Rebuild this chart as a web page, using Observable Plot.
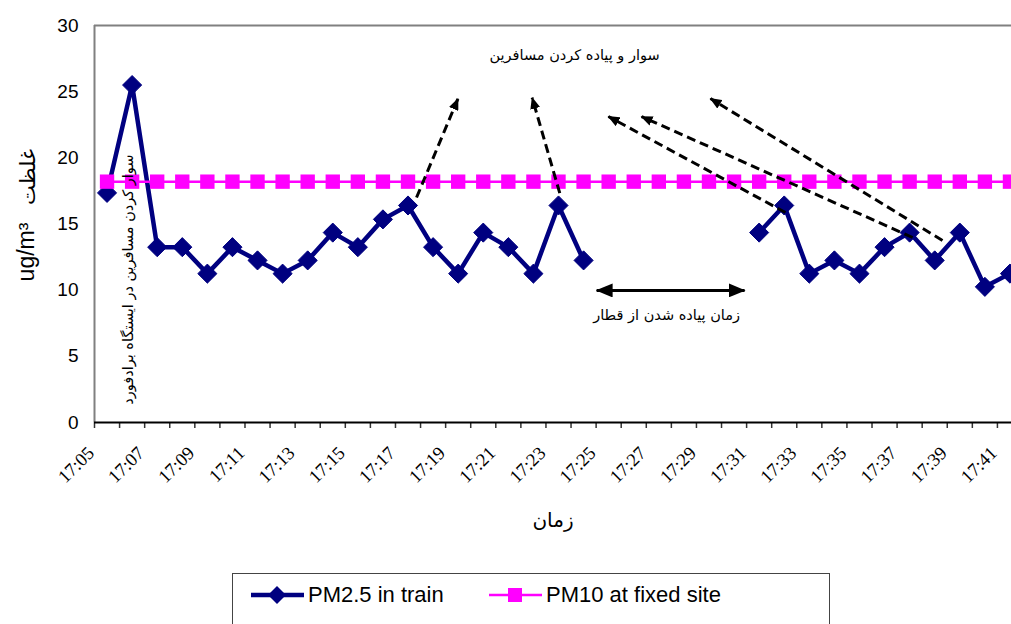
<!DOCTYPE html>
<html>
<head>
<meta charset="utf-8">
<script src="https://cdn.jsdelivr.net/npm/d3@7"></script>
<script src="https://cdn.jsdelivr.net/npm/@observablehq/plot@0.6"></script>
<style>
  html, body { margin: 0; padding: 0; background: #fff; overflow: hidden; }
  #chart { position: absolute; left: 0; top: 0; }
  #legend {
    position: absolute; left: 232px; top: 573px; width: 598px; height: 70px;
    border: 1px solid #444; box-sizing: border-box; background: #fff;
    font-family: "Liberation Sans", Arial, sans-serif; font-size: 22px; color: #000;
  }
  .item { position: absolute; top: 7px; display: flex; align-items: center; height: 28px; }
  .item svg { display: block; margin-right: 3px; }
</style>
</head>
<body>
<div id="chart"></div>
<div id="legend"></div>
<script>
// ---- data ----
const times = ["17:05","17:06","17:07","17:08","17:09","17:10","17:11","17:12","17:13","17:14",
  "17:15","17:16","17:17","17:18","17:19","17:20","17:21","17:22","17:23","17:24",
  "17:25","17:26","17:27","17:28","17:29","17:30","17:31","17:32","17:33","17:34",
  "17:35","17:36","17:37","17:38","17:39","17:40","17:41"];
const pm25 = [17.35, 25.5, 13.25, 13.25, 11.25, 13.25, 12.25, 11.25, 12.25, 14.35,
  13.25, 15.35, 16.4, 13.25, 11.25, 14.35, 13.25, 11.25, 16.4, 12.25,
  null, null, null, null, null, null, 14.35, 16.4, 11.25, 12.25,
  11.25, 13.25, 14.35, 12.25, 14.35, 10.25, 11.25];
const pm10 = [18.2, 18.2, 18.2, 18.2, 18.2, 18.2, 18.2, 18.2, 18.2, 18.2,
  18.2, 18.2, 18.2, 18.2, 18.2, 18.2, 18.2, 18.2, 18.2, 18.2,
  18.2, 18.2, 18.2, 18.2, 18.2, 18.2, 18.2, 18.2, 18.2, 18.2,
  18.2, 18.2, 18.2, 18.2, 18.2, 18.2, 18.2];
const yTicks = [0, 5, 10, 15, 20, 25, 30];
const xTickLabels = ["17:05","17:07","17:09","17:11","17:13","17:15","17:17","17:19","17:21",
  "17:23","17:25","17:27","17:29","17:31","17:33","17:35","17:37","17:39","17:41"];
const seriesNames = ["PM2.5 in train", "PM10 at fixed site"];
const yTitleLatin = "ug/m³";
const yTitleFa = "غلظت";
const xTitle = "زمان";
const noteTop = "سوار و پیاده کردن مسافرین";
const noteSide = "سوار کردن مسافرین در ایستگاه برادفورد";
const noteGap = "زمان پیاده شدن از قطار";
// annotation arrows (in category-index / value units)
const dashedArrows = [
  {x1: 12.84, y1: 17.0,  x2: 14.49, y2: 24.46},
  {x1: 18.55, y1: 17.33, x2: 17.45, y2: 24.54},
  {x1: 27.55, y1: 15.87, x2: 20.49, y2: 23.12},
  {x1: 32.62, y1: 13.98, x2: 21.81, y2: 23.12},
  {x1: 33.81, y1: 13.75, x2: 24.56, y2: 24.48}
];
const gapArrow = [{x1: 20.02, y1: 9.98, x2: 25.92, y2: 9.98}];
const notes = [
  {text: noteTop, x: 19.14, y: 27.74, rotate: 0},
  {text: noteGap, x: 22.81, y: 8.09, rotate: 0},
  {text: noteSide, x: 1.36, y: 10.8, rotate: -90}
];

const NAVY = "#000080", MAGENTA = "#FF00FF";
const rows = times.map((t, i) => ({i, t, pm25: pm25[i], pm10: pm10[i]}));
const cx = d => d.i + 0.5;
const labelRows = xTickLabels.map(l => ({label: l, i: times.indexOf(l)}));

function head(len, wid) {
  return function (color) {
    const ns = "http://www.w3.org/2000/svg";
    const m = document.createElementNS(ns, "marker");
    m.setAttribute("viewBox", `${-len} ${-wid / 2} ${len + 1} ${wid}`);
    m.setAttribute("markerWidth", len + 1);
    m.setAttribute("markerHeight", wid);
    m.setAttribute("markerUnits", "userSpaceOnUse");
    m.setAttribute("refX", 0);
    m.setAttribute("refY", 0);
    m.setAttribute("orient", "auto-start-reverse");
    const p = document.createElementNS(ns, "path");
    p.setAttribute("d", `M${-len},${-wid / 2}L1,0L${-len},${wid / 2}Z`);
    p.setAttribute("fill", color);
    p.setAttribute("stroke", "none");
    m.appendChild(p);
    return m;
  };
}

const plot = Plot.plot({
  width: 1011,
  height: 560,
  marginLeft: 94,
  marginRight: 0,
  marginTop: 25,
  marginBottom: 138,
  style: {background: "#fff", overflow: "visible"},
  x: {type: "linear", domain: [0, times.length], range: [94, 1022]},
  y: {domain: [0, 30]},
  marks: [
    Plot.ruleY([30], {stroke: "#808080", strokeWidth: 2}),
    Plot.ruleX([0], {stroke: "#808080", strokeWidth: 2}),
    Plot.axisY({ticks: yTicks, tickSize: 0, tickPadding: 16, fontSize: 19,
      fontFamily: "Liberation Sans, Arial, sans-serif", label: null}),
    Plot.axisX({ticks: d3.range(0, times.length + 1), tickSize: 6, tickFormat: () => "",
      stroke: "#333", strokeWidth: 1.5, label: null}),
    Plot.text(labelRows, {x: cx, text: "label", frameAnchor: "bottom", rotate: -45,
      textAnchor: "end", lineAnchor: "middle", dx: -16, dy: 27.5, fontSize: 18.5,
      fontFamily: "Liberation Serif, Times New Roman, serif", fill: "#000"}),
    Plot.line(rows, {x: cx, y: "pm25", stroke: NAVY, strokeWidth: 4.5}),
    Plot.dot(rows, {x: cx, y: "pm25", symbol: "diamond2", r: 8.6, fill: NAVY, stroke: NAVY, strokeWidth: 1}),
    Plot.line(rows, {x: cx, y: "pm10", stroke: MAGENTA, strokeWidth: 2.5}),
    Plot.dot(rows, {x: cx, y: "pm10", symbol: "square", r: 8.1, fill: MAGENTA, stroke: "none"}),
    Plot.ruleY([0], {stroke: "#000", strokeWidth: 2}),
    Plot.link(dashedArrows, {x1: "x1", y1: "y1", x2: "x2", y2: "y2", stroke: "#000",
      strokeWidth: 3, strokeDasharray: "9,5", markerEnd: head(11, 10)}),
    Plot.link(gapArrow, {x1: "x1", y1: "y1", x2: "x2", y2: "y2", stroke: "#000",
      strokeWidth: 3, markerStart: head(16, 14), markerEnd: head(16, 14)}),
    Plot.text(notes, {x: "x", y: "y", text: "text", rotate: "rotate", fontSize: 14.5,
      fontFamily: "DejaVu Sans, sans-serif", fill: "#000"}),
    Plot.text([xTitle], {frameAnchor: "bottom", dy: 104, fontSize: 20,
      fontFamily: "DejaVu Sans, sans-serif", fill: "#000"}),
    Plot.text([yTitleLatin], {frameAnchor: "left", textAnchor: "middle", dx: -68, dy: 28, rotate: -90,
      fontSize: 23, fontFamily: "Liberation Sans, Arial, sans-serif", fill: "#000"}),
    Plot.text([yTitleFa], {frameAnchor: "left", textAnchor: "middle", dx: -66, dy: -47, rotate: -90,
      fontSize: 21, fontFamily: "DejaVu Sans, sans-serif", fill: "#000"})
  ]
});
document.getElementById("chart").appendChild(plot);

// ---- legend ----
const legend = d3.select("#legend");
const items = [
  {name: seriesNames[0], color: NAVY, sym: "diamond", left: 17, lineW: 4.5},
  {name: seriesNames[1], color: MAGENTA, sym: "square", left: 255, lineW: 2.5}
];
items.forEach(it => {
  const div = legend.append("div").attr("class", "item").style("left", it.left + "px");
  const svg = div.append("svg").attr("width", 55).attr("height", 28);
  svg.append("line").attr("x1", 1).attr("x2", 54).attr("y1", 14).attr("y2", 14)
    .attr("stroke", it.color).attr("stroke-width", it.lineW);
  if (it.sym === "diamond") {
    svg.append("path").attr("d", "M27,5L36,14L27,23L18,14Z").attr("fill", it.color);
  } else {
    svg.append("rect").attr("x", 20).attr("y", 7).attr("width", 14).attr("height", 14).attr("fill", it.color);
  }
  div.append("span").text(it.name);
});
</script>
</body>
</html>
